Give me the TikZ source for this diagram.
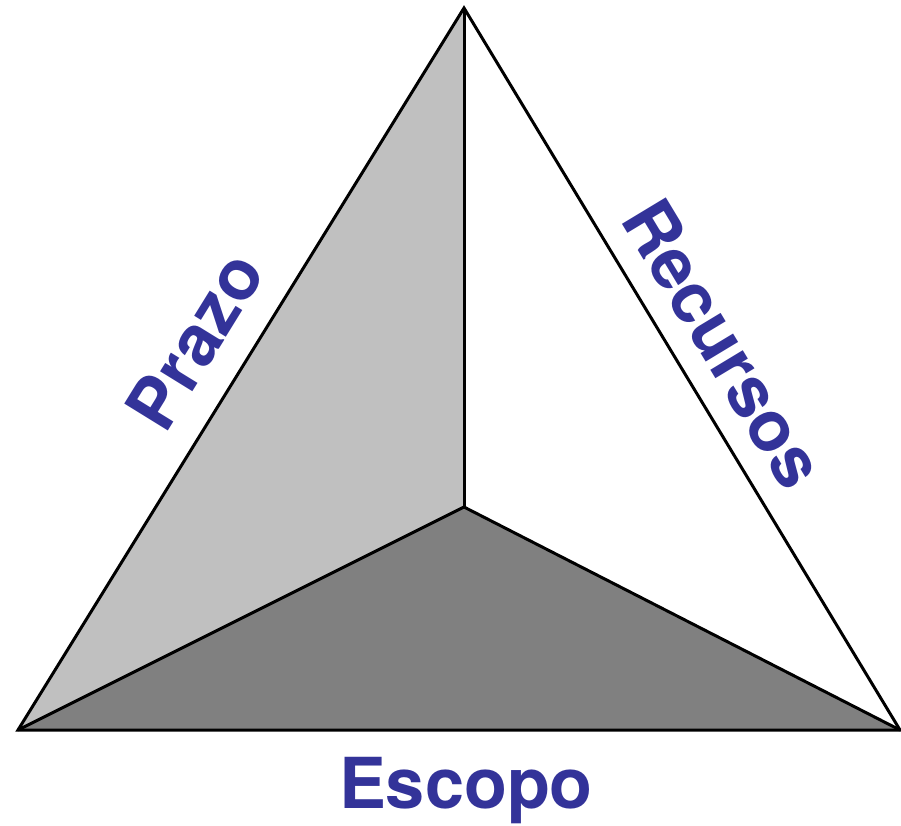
\documentclass[tikz,border=0pt]{standalone}
\usepackage{fontspec}
\setmainfont{TeX Gyre Heros}
\usetikzlibrary{positioning}
\definecolor{facelight}{HTML}{C0C0C0}
\definecolor{facedark}{HTML}{808080}
\definecolor{textblue}{HTML}{333399}

\begin{document}
\begin{tikzpicture}[x=0.02cm,y=-0.02cm,
    edge/.style={draw=black,line width=1.7pt},
    sidetext/.style={textblue,font=\fontsize{40}{48}\selectfont\bfseries,inner sep=0pt}]
  \useasboundingbox (0,0) rectangle (901,825);
  % corners
  \coordinate (top) at (464,8);
  \coordinate (bl) at (18,730);
  \coordinate (br) at (900,730);
  \coordinate (mid) at (464,507);
  % faces
  \fill[facelight] (bl) -- (top) -- (mid) -- cycle;
  \fill[facedark] (bl) -- (mid) -- (br) -- cycle;
  % edges
  \draw[edge] (bl) -- (top) -- (br) -- cycle;
  \foreach \c in {top,bl,br} \draw[edge] (mid) -- (\c);
  % labels
  \path (bl) -- (top) node[sidetext,midway,sloped,above=16pt] (prazo) {Prazo};
  \path (top) -- (br) node[sidetext,midway,sloped,above=13pt] (recursos) {Recursos};
  \node[sidetext,anchor=base] (escopo) at (466,808) {Escopo};
\end{tikzpicture}
\end{document}
